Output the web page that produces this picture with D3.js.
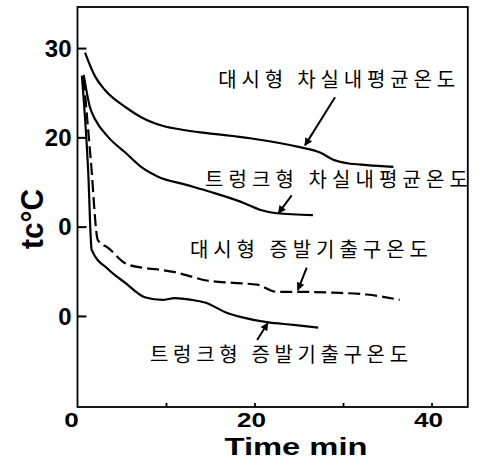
<!DOCTYPE html>
<html>
<head>
<meta charset="utf-8">
<script src="https://cdn.jsdelivr.net/npm/d3@7"></script>
<style>
  html, body { margin: 0; padding: 0; background: #fff; }
  svg { display: block; }
</style>
</head>
<body>
<svg id="chart" width="477" height="461"></svg>
<script>
// ---- data (time in min, temperature in °C) ----
const dashiCabinT = [0.85, 2.0, 3.1, 5.4, 7.3, 9.6, 12.2, 14.4, 19.5, 25.1, 27.4, 28.9, 30.5, 32.7, 35.7];
const dashiCabinV = [29.5, 26.8, 25.3, 23.4, 22.2, 21.3, 20.8, 20.5, 19.9, 18.9, 18.3, 17.5, 17.1, 16.9, 16.7];

const trunkCabinT = [0.7, 1.4, 2.0, 3.5, 5.4, 7.3, 9.1, 12.2, 15.0, 18.4, 20.6, 22.5, 26.6];
const trunkCabinV = [27.0, 23.4, 22.0, 20.0, 18.3, 16.6, 15.6, 14.7, 13.9, 12.8, 11.9, 11.5, 11.3];

const dashiEvapT = [0.7, 1.5, 2.3, 3.5, 5.4, 7.3, 9.1, 11.0, 12.9, 14.4, 17.6, 20.3, 22.5, 25.1, 28.9, 32.7, 36.4];
const dashiEvapV = [26.6, 17.5, 8.5, 7.6, 5.9, 5.4, 5.2, 4.9, 4.4, 4.0, 3.7, 3.5, 2.7, 2.7, 2.6, 2.4, 1.8];

const trunkEvapT = [0.5, 1.2, 1.6, 3.5, 5.4, 7.6, 9.6, 11.0, 12.9, 14.4, 17.0, 18.4, 21.4, 24.4, 27.2];
const trunkEvapV = [26.9, 16.4, 7.4, 5.2, 3.7, 2.1, 1.8, 2.0, 1.8, 1.5, 0.3, -0.1, -0.7, -1.0, -1.3];

const yTickValues = [30, 20, 10, 0];
const yTickLabels = ["30", "20", "0", "0"];
const xTickValues = [10, 20, 30, 40];
const xLabelValues = [0, 20, 40];
const xLabelTexts = ["0", "20", "40"];

const labelTexts = ["대시형 차실내평균온도", "트렁크형 차실내평균온도", "대시형 증발기출구온도", "트렁크형 증발기출구온도"];
const labelT = [15.9, 14.4, 12.7, 8.2];
const labelV = [26.4, 15.3, 7.4, -4.4];
const labelWidths = [237, 263, 238, 258];

// arrows: from (t,v) to (t,v)
const arrowFromT = [29.1, 24.2, 25.9, 20.3];
const arrowFromV = [24.5, 13.5, 5.4, -2.7];
const arrowToT = [25.7, 22.7, 24.9, 21.5];
const arrowToV = [19.1, 11.5, 2.9, -0.8];

const xTitle = "Time min";
const yTitle = "tc°C";

// ---- drawing ----
const svg = d3.select("#chart");
const x = d3.scaleLinear().domain([0, 44.1]).range([77.5, 467.8]);
const y = d3.scaleLinear().domain([-10.2, 34.6]).range([407, 7]);

const numFont = "'Liberation Sans', Arial, Helvetica, sans-serif";
const krFont = "'Noto Sans CJK KR', 'Noto Sans', sans-serif";

// frame
svg.append("rect")
  .attr("x", x(0)).attr("y", y(34.6))
  .attr("width", x(44.1) - x(0)).attr("height", y(-10.2) - y(34.6))
  .attr("fill", "none").attr("stroke", "#000").attr("stroke-width", 1.8);

// y axis ticks (inward)
const yAxis = d3.axisLeft(y).tickValues(yTickValues).tickSize(-9).tickFormat("");
const gy = svg.append("g").attr("transform", `translate(${x(0)},0)`).call(yAxis);
gy.select(".domain").remove();
gy.selectAll("line").attr("stroke", "#000").attr("stroke-width", 2);

// x axis ticks (inward)
const xAxis = d3.axisBottom(x).tickValues(xTickValues).tickSize(-4).tickFormat("");
const gx = svg.append("g").attr("transform", `translate(0,${y(-10.2)})`).call(xAxis);
gx.select(".domain").remove();
gx.selectAll("line").attr("stroke", "#000").attr("stroke-width", 1.8);

// y tick labels
svg.append("g").selectAll("text").data(yTickValues).join("text")
  .attr("x", x(0) - 6).attr("y", d => y(d)).attr("dy", "0.36em")
  .attr("text-anchor", "end")
  .attr("font-family", numFont).attr("font-weight", "bold").attr("font-size", 24)
  .text((d, i) => yTickLabels[i]);

// x tick labels
svg.append("g").selectAll("text").data(xLabelValues).join("text")
  .attr("x", d => x(d) - (d === 0 ? 6 : 3)).attr("y", 427)
  .attr("text-anchor", "middle")
  .attr("font-family", numFont).attr("font-weight", "bold").attr("font-size", 21)
  .attr("textLength", (d, i) => xLabelTexts[i].length * 14.5)
  .attr("lengthAdjust", "spacingAndGlyphs")
  .text((d, i) => xLabelTexts[i]);

// axis titles
svg.append("text")
  .attr("x", 296).attr("y", 455)
  .attr("text-anchor", "middle")
  .attr("font-family", numFont).attr("font-weight", "bold").attr("font-size", 23)
  .attr("textLength", 143).attr("lengthAdjust", "spacingAndGlyphs")
  .text(xTitle);

svg.append("text")
  .attr("transform", "translate(43,219) rotate(-90)")
  .attr("text-anchor", "middle")
  .attr("font-family", numFont).attr("font-weight", "bold").attr("font-size", 31)
  .attr("textLength", 60).attr("lengthAdjust", "spacingAndGlyphs")
  .text(yTitle);

// curves
const line = d3.line().x(d => x(d[0])).y(d => y(d[1])).curve(d3.curveMonotoneX);
const series = [
  { t: dashiCabinT, v: dashiCabinV, dash: null },
  { t: trunkCabinT, v: trunkCabinV, dash: null },
  { t: dashiEvapT, v: dashiEvapV, dash: "12,5" },
  { t: trunkEvapT, v: trunkEvapV, dash: null }
];
svg.append("g").selectAll("path").data(series).join("path")
  .attr("d", s => line(s.t.map((t, i) => [t, s.v[i]])))
  .attr("fill", "none").attr("stroke", "#000").attr("stroke-width", 2.2)
  .attr("stroke-linejoin", "round")
  .attr("stroke-dasharray", s => s.dash);

// arrow marker
svg.append("defs").append("marker")
  .attr("id", "ah").attr("viewBox", "0 0 10 10")
  .attr("refX", 9).attr("refY", 5)
  .attr("markerWidth", 5).attr("markerHeight", 4)
  .attr("markerUnits", "strokeWidth")
  .attr("orient", "auto")
  .append("path").attr("d", "M0,0 L10,5 L0,10 Z").attr("fill", "#000");

svg.append("g").selectAll("line").data(arrowFromT).join("line")
  .attr("x1", (d, i) => x(arrowFromT[i])).attr("y1", (d, i) => y(arrowFromV[i]))
  .attr("x2", (d, i) => x(arrowToT[i])).attr("y2", (d, i) => y(arrowToV[i]))
  .attr("stroke", "#000").attr("stroke-width", 2)
  .attr("marker-end", "url(#ah)");

// labels
svg.append("g").selectAll("text").data(labelTexts).join("text")
  .attr("x", (d, i) => x(labelT[i])).attr("y", (d, i) => y(labelV[i]))
  .attr("dy", "0.36em")
  .attr("font-family", krFont).attr("font-size", 20)
  .attr("textLength", (d, i) => labelWidths[i]).attr("lengthAdjust", "spacing")
  .attr("fill", "#000")
  .text(d => d);
</script>
</body>
</html>
